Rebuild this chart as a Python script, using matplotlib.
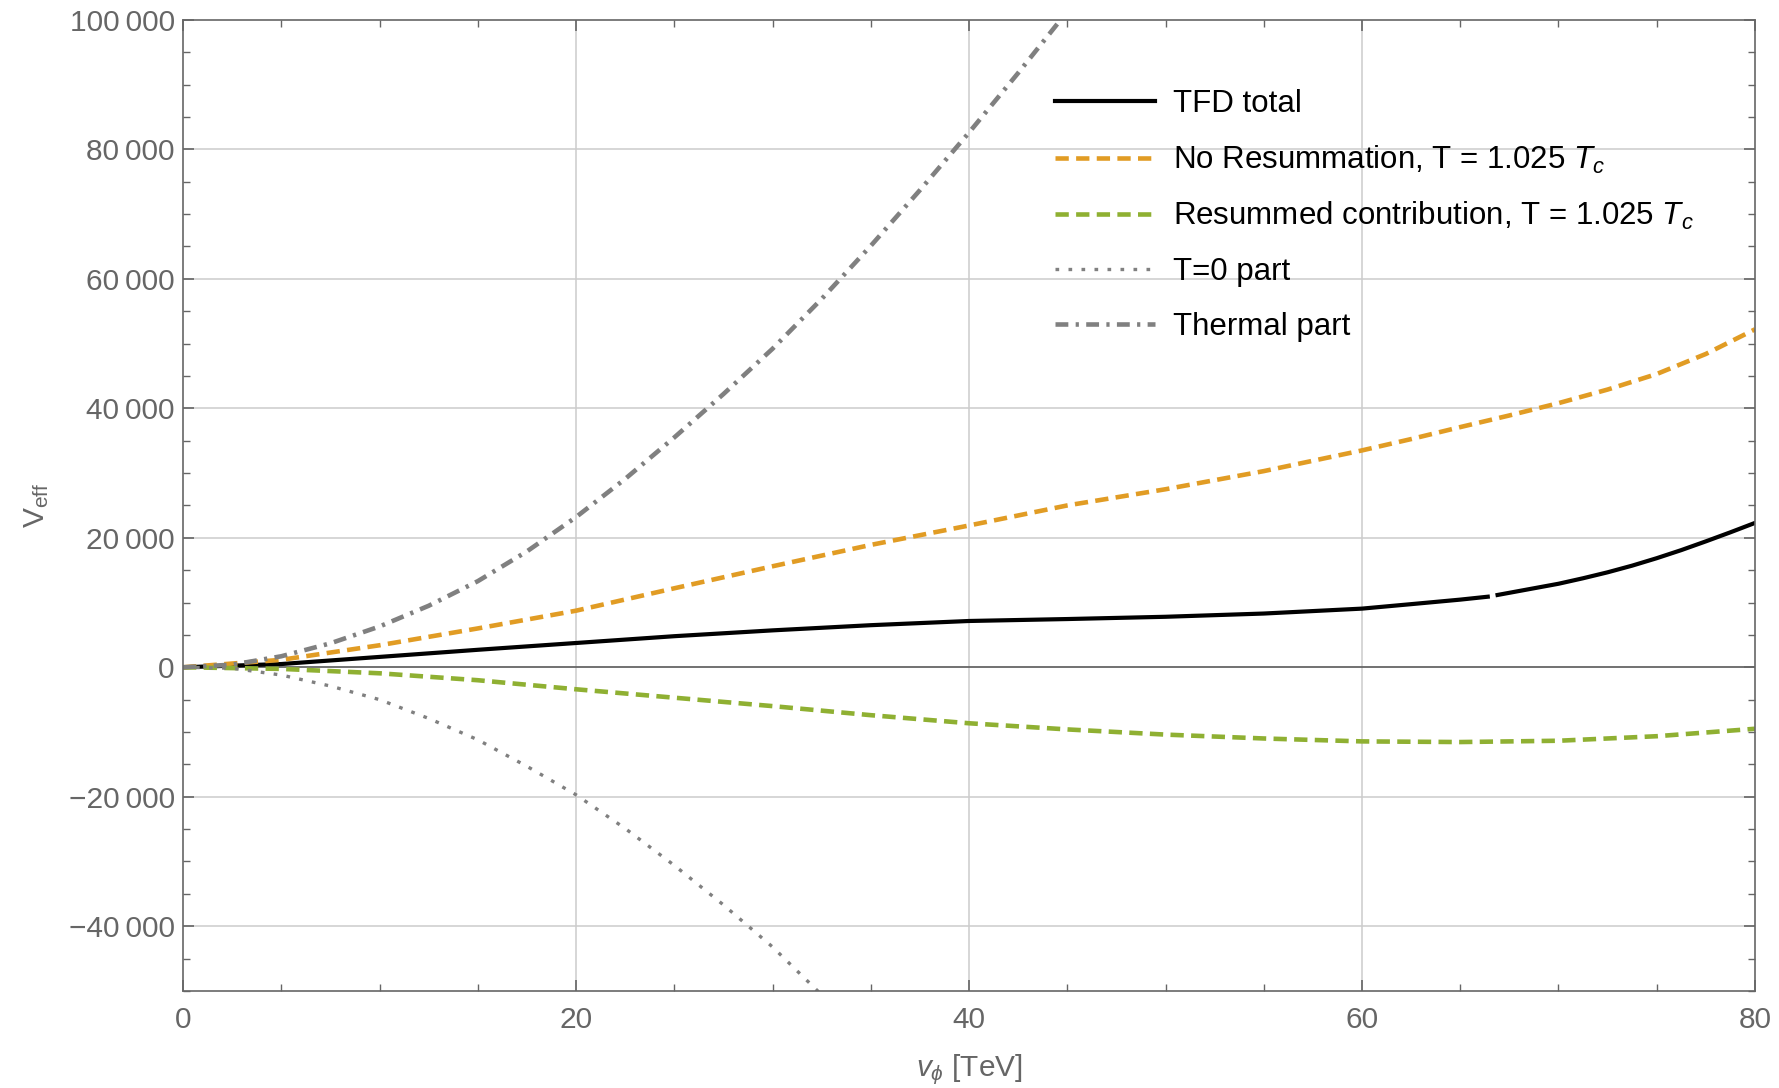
import matplotlib
matplotlib.use("Agg")
import matplotlib.pyplot as plt
from matplotlib.ticker import MultipleLocator, FuncFormatter
import numpy as np

plt.rcParams['font.family'] = ['Liberation Sans', 'DejaVu Sans']
plt.rcParams['mathtext.fontset'] = 'custom'
plt.rcParams['mathtext.rm'] = 'Liberation Sans'
plt.rcParams['mathtext.it'] = 'Liberation Sans:italic'

# --- data ---
# TFD total (small gap in the line near v = 66.6)
tfd_x = [0, 5, 10, 15, 20, 25, 30, 35, 40, 45, 50, 55, 60, 62.5, 65, 66.4, np.nan,
         66.9, 70, 71.25, 72.5, 73.75, 75, 76.25, 77.5, 78.75, 80]
tfd_y = [0, 500, 1600, 2700, 3750, 4800, 5700, 6500, 7150, 7450, 7800, 8300, 9060, 9750,
         10450, 10900, np.nan, 11170, 12900, 13750, 14670, 15700, 16850, 18100, 19450,
         20850, 22300]

# No resummation, T = 1.025 Tc
nores_x = [0, 5, 10, 15, 20, 25, 30, 35, 40, 45, 50, 55, 60, 62.5, 65, 67.5, 70, 72.5, 75,
           77.5, 80]
nores_y = [0, 1150, 3400, 6000, 8740, 12200, 15600, 18900, 21900, 25000, 27500, 30300,
           33500, 35250, 37100, 38900, 40800, 42900, 45300, 48400, 52200]

# Resummed contribution, T = 1.025 Tc
resum_x = [0, 5, 10, 15, 20, 25, 30, 35, 40, 45, 50, 55, 60, 65, 70, 75, 80]
resum_y = [0, -250, -930, -2000, -3400, -4700, -6000, -7400, -8650, -9600, -10400, -11000,
           -11450, -11550, -11350, -10650, -9500]

# T=0 part
zero_x = [0, 2.5, 5, 7.5, 10, 12.5, 15, 17.5, 20, 22.5, 25, 27.5, 30, 32.5]
zero_y = [0, -150, -1200, -2900, -5000, -7900, -11200, -15300, -19700, -24900, -30600,
          -36700, -43200, -50600]

# Thermal part
therm_x = [0, 2.5, 5, 7.5, 10, 12.5, 15, 17.5, 20, 22.5, 25, 27.5, 30, 32.5, 35, 37.5, 40,
           42.5, 45]
therm_y = [0, 400, 1700, 3700, 6300, 9500, 13300, 17900, 23200, 29100, 35500, 42200, 49200,
           56900, 65100, 73700, 82600, 91800, 101300]

labels = ['TFD total',
          r'No Resummation, T = 1.025 $T_c$',
          r'Resummed contribution, T = 1.025 $T_c$',
          'T=0 part',
          'Thermal part']

gray = '#666666'

fig = plt.figure(figsize=(17.79, 10.88), dpi=100)
ax = fig.add_axes([0.1029, 0.0892, 0.8836, 0.8925])

ax.plot(tfd_x, tfd_y, color='black', lw=3.0, label=labels[0])
ax.plot(nores_x, nores_y, color='#E19C24', lw=3.3, ls=(0, (2.9, 1.6)), label=labels[1])
ax.plot(resum_x, resum_y, color='#8FB032', lw=3.3, ls=(0, (2.9, 1.6)), label=labels[2])
ax.plot(zero_x, zero_y, color='#808080', lw=2.4, ls=(0, (1.1, 2.8)), label=labels[3])
ax.plot(therm_x, therm_y, color='#808080', lw=3.3, ls=(0, (2.8, 1.6, 0.7, 1.6)),
        label=labels[4])

ax.axhline(0, color=gray, lw=1.3, zorder=1)

ax.set_xlim(0, 80)
ax.set_ylim(-50000, 100000)

ax.xaxis.set_major_locator(MultipleLocator(20))
ax.xaxis.set_minor_locator(MultipleLocator(5))
ax.yaxis.set_major_locator(MultipleLocator(20000))
ax.yaxis.set_minor_locator(MultipleLocator(5000))


def fmt(v, pos):
    s = f'{abs(int(round(v))):,}'.replace(',', '\u2009')
    return ('\u2212' + s) if v < 0 else s


ax.yaxis.set_major_formatter(FuncFormatter(fmt))

for x in [20, 40, 60]:
    ax.axvline(x, color='#cccccc', lw=1.1, zorder=0)
for y in [-40000, -20000, 20000, 40000, 60000, 80000]:
    ax.axhline(y, color='#cccccc', lw=1.1, zorder=0)

for s in ax.spines.values():
    s.set_color(gray)
    s.set_linewidth(1.2)

ax.tick_params(which='both', direction='in', top=True, right=True, color=gray,
               labelcolor=gray, labelsize=21.5)
ax.tick_params(which='major', length=8, width=1.2)
ax.tick_params(which='minor', length=5, width=1.0)
ax.tick_params(axis='x', pad=11)
ax.tick_params(axis='y', pad=6)

ax.set_xlabel(r'$v_\phi$ [TeV]', color=gray, fontsize=21.5)
ax.set_ylabel(r'$\mathrm{V}_{\mathrm{eff}}$', color=gray, fontsize=21.5)
ax.xaxis.set_label_coords(0.5, -0.081)
ax.xaxis.label.set_va('center')
ax.yaxis.set_label_coords(-0.093, 0.5)
ax.yaxis.label.set_va('center')

ax.legend(loc='upper left', bbox_to_anchor=(0.5547, 0.929), frameon=False, fontsize=22.5,
          handlelength=3.2, handletextpad=0.58, labelspacing=0.79, borderpad=0,
          borderaxespad=0)

fig.savefig('out.png', dpi=100)
